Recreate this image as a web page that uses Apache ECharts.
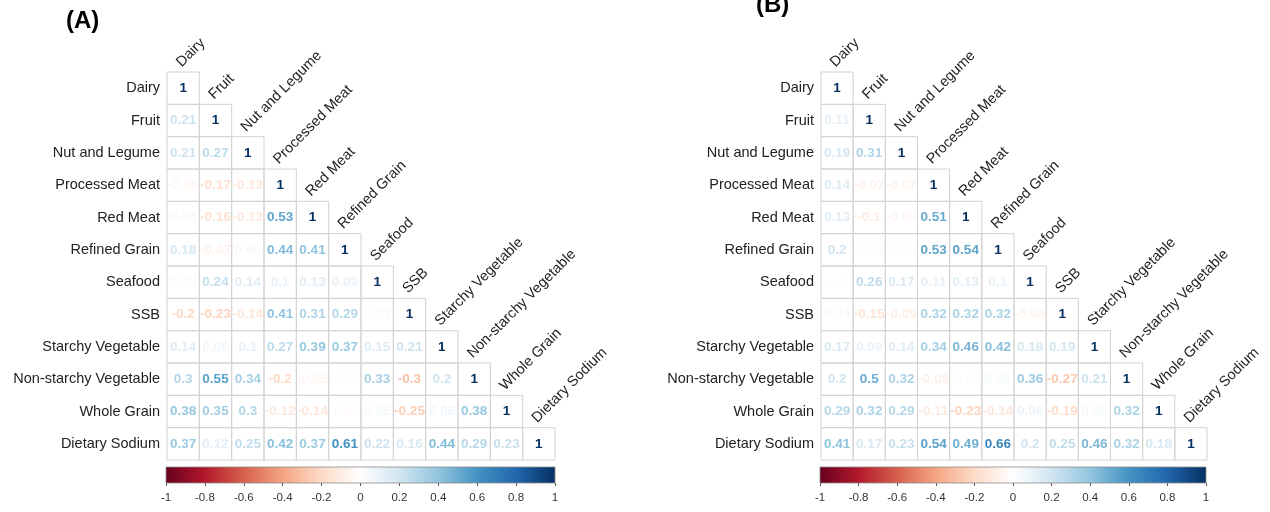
<!DOCTYPE html>
<html>
<head>
<meta charset="utf-8">
<script src="https://cdn.jsdelivr.net/npm/echarts@6/dist/echarts.min.js"></script>
<style>
html, body { margin: 0; padding: 0; background: #fff; }
#chart { width: 1270px; height: 512px; }
</style>
</head>
<body>
<div id="chart"></div>
<script>
// Food groups, in matrix order
const foodGroups = ['Dairy', 'Fruit', 'Nut and Legume', 'Processed Meat', 'Red Meat', 'Refined Grain',
  'Seafood', 'SSB', 'Starchy Vegetable', 'Non-starchy Vegetable', 'Whole Grain', 'Dietary Sodium'];

// Lower-triangle correlation coefficients, row by row (diagonal included)
const corrA = [
  [1],
  [0.21, 1],
  [0.21, 0.27, 1],
  [-0.05, -0.17, -0.13, 1],
  [0.04, -0.16, -0.12, 0.53, 1],
  [0.18, -0.07, 0.05, 0.44, 0.41, 1],
  [0.03, 0.24, 0.14, 0.1, 0.13, 0.09, 1],
  [-0.2, -0.23, -0.14, 0.41, 0.31, 0.29, 0.03, 1],
  [0.14, 0.06, 0.1, 0.27, 0.39, 0.37, 0.15, 0.21, 1],
  [0.3, 0.55, 0.34, -0.2, -0.05, -0.01, 0.33, -0.3, 0.2, 1],
  [0.38, 0.35, 0.3, -0.12, -0.14, -0.03, 0.05, -0.25, 0.06, 0.38, 1],
  [0.37, 0.12, 0.25, 0.42, 0.37, 0.61, 0.22, 0.16, 0.44, 0.29, 0.23, 1]
];

const corrB = [
  [1],
  [0.11, 1],
  [0.19, 0.31, 1],
  [0.14, -0.07, -0.07, 1],
  [0.13, -0.1, -0.05, 0.51, 1],
  [0.2, -0.03, 0.02, 0.53, 0.54, 1],
  [0.01, 0.26, 0.17, 0.11, 0.13, 0.1, 1],
  [0.04, -0.15, -0.09, 0.32, 0.32, 0.32, -0.06, 1],
  [0.17, 0.09, 0.14, 0.34, 0.46, 0.42, 0.18, 0.19, 1],
  [0.2, 0.5, 0.32, -0.08, -0.03, 0.05, 0.36, -0.27, 0.21, 1],
  [0.29, 0.32, 0.29, -0.11, -0.23, -0.14, 0.08, -0.19, 0.05, 0.32, 1],
  [0.41, 0.17, 0.23, 0.54, 0.49, 0.66, 0.2, 0.25, 0.46, 0.32, 0.18, 1]
];

// Colour scale tick labels
const scaleTicks = [-1, -0.8, -0.6, -0.4, -0.2, 0, 0.2, 0.4, 0.6, 0.8, 1];

// Diverging red-white-blue palette, evenly spaced from -1 to 1
const palette = ['#67001F', '#B2182B', '#D6604D', '#F4A582', '#FDDBC7', '#FFFFFF',
  '#D1E5F0', '#92C5DE', '#4393C3', '#2166AC', '#053061'];

function hexToRgb(h) {
  return [parseInt(h.slice(1, 3), 16), parseInt(h.slice(3, 5), 16), parseInt(h.slice(5, 7), 16)];
}
function corrColor(v) {
  const t = (Math.max(-1, Math.min(1, v)) + 1) / 2 * (palette.length - 1);
  const i = Math.min(Math.floor(t), palette.length - 2);
  const f = t - i;
  const a = hexToRgb(palette[i]), b = hexToRgb(palette[i + 1]);
  const c = a.map((x, k) => Math.round(x + (b[k] - x) * f));
  return 'rgb(' + c.join(',') + ')';
}

function toCells(matrix) {
  const out = [];
  matrix.forEach((row, i) => row.forEach((v, j) => out.push([j, i, v])));
  return out;
}

const LABEL_FONT = '"Liberation Sans", Arial, sans-serif';

function renderGridLines(params, api) {
  const c = api.coord([api.value(0), api.value(1)]);
  const s = api.size([1, 1]);
  return {
    type: 'rect',
    shape: { x: c[0] - s[0] / 2, y: c[1] - s[1] / 2, width: s[0], height: s[1] },
    style: { fill: null, stroke: '#d2d2d2', lineWidth: 1 }
  };
}

function renderNumber(params, api) {
  const c = api.coord([api.value(0), api.value(1)]);
  const v = api.value(2);
  return {
    type: 'text',
    x: c[0],
    y: c[1],
    style: {
      text: String(v),
      fill: corrColor(v),
      font: 'bold 13.5px ' + LABEL_FONT,
      align: 'center',
      verticalAlign: 'middle'
    }
  };
}

function renderHeader(params, api) {
  const j = api.value(0);
  const c = api.coord([j, j]);
  const s = api.size([1, 1]);
  return {
    type: 'text',
    x: c[0] + 1,
    y: c[1] - s[1] / 2 - 2,
    rotation: Math.PI / 4,
    style: {
      text: foodGroups[j],
      fill: '#222',
      font: '14.5px ' + LABEL_FONT,
      align: 'left',
      verticalAlign: 'bottom'
    }
  };
}

function renderScaleBar(params, api) {
  const p0 = api.coord([api.value(0), 1]);
  const p1 = api.coord([api.value(1), 0]);
  const stops = palette.map((col, k) => ({ offset: k / (palette.length - 1), color: col }));
  return {
    type: 'rect',
    shape: { x: p0[0], y: p0[1], width: p1[0] - p0[0], height: p1[1] - p0[1] },
    style: {
      fill: new echarts.graphic.LinearGradient(0, 0, 1, 0, stops),
      stroke: '#8a8a8a',
      lineWidth: 0.8
    }
  };
}

const panels = [
  { cells: toCells(corrA), left: 167, width: 388, barLeft: 166, barWidth: 389 },
  { cells: toCells(corrB), left: 821, width: 386, barLeft: 820, barWidth: 386 }
];

const grid = [], xAxis = [], yAxis = [], series = [];

panels.forEach((p, k) => {
  // correlation matrix grid
  grid.push({ left: p.left, top: 72, width: p.width, height: 388 });
  xAxis.push({ type: 'category', gridIndex: 2 * k, data: foodGroups, show: false });
  yAxis.push({
    type: 'category', gridIndex: 2 * k, data: foodGroups, inverse: true,
    axisLine: { show: false }, axisTick: { show: false }, splitLine: { show: false },
    axisLabel: { margin: 7, color: '#222', fontSize: 14.5, fontFamily: LABEL_FONT }
  });
  // colour scale grid
  grid.push({ left: p.barLeft, top: 467, width: p.barWidth, height: 16 });
  xAxis.push({
    type: 'value', gridIndex: 2 * k + 1, min: -1, max: 1, interval: 0.2,
    axisLine: { show: false }, splitLine: { show: false },
    axisTick: { show: true, length: 3, customValues: scaleTicks, lineStyle: { color: '#555', width: 1 } },
    axisLabel: {
      margin: 9, color: '#333', fontSize: 11.5, fontFamily: LABEL_FONT,
      customValues: scaleTicks, formatter: v => String(v)
    }
  });
  yAxis.push({ type: 'value', gridIndex: 2 * k + 1, min: 0, max: 1, show: false });

  const xi = 2 * k, yi = 2 * k;
  series.push({
    type: 'custom', xAxisIndex: xi, yAxisIndex: yi, silent: true,
    renderItem: renderGridLines, data: p.cells, z: 1
  });
  series.push({
    type: 'custom', xAxisIndex: xi, yAxisIndex: yi, silent: true,
    renderItem: renderNumber, data: p.cells, z: 2
  });
  series.push({
    type: 'custom', xAxisIndex: xi, yAxisIndex: yi, silent: true,
    renderItem: renderHeader, data: foodGroups.map((_, j) => [j, j]), z: 2
  });
  series.push({
    type: 'custom', xAxisIndex: 2 * k + 1, yAxisIndex: 2 * k + 1, silent: true,
    renderItem: renderScaleBar, data: [[-1, 1]], z: 1
  });
});

const chart = echarts.init(document.getElementById('chart'), null, { renderer: 'canvas' });
chart.setOption({
  animation: false,
  backgroundColor: '#fff',
  grid, xAxis, yAxis, series,
  graphic: [
    { type: 'text', left: 66, top: 9, style: { text: '(A)', font: 'bold 24px ' + LABEL_FONT, fill: '#000' } },
    { type: 'text', left: 756, top: -7, style: { text: '(B)', font: 'bold 24px ' + LABEL_FONT, fill: '#000' } }
  ]
});
</script>
</body>
</html>
